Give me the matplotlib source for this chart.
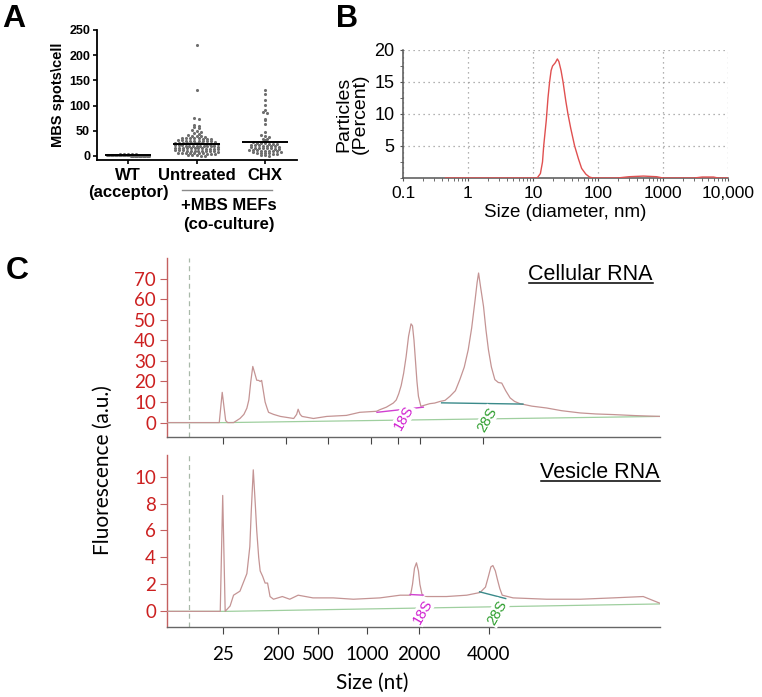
import numpy as np
import matplotlib
matplotlib.use('Agg')
import matplotlib.pyplot as plt
from matplotlib.lines import Line2D
from matplotlib.ticker import MultipleLocator, LogLocator, NullFormatter

plt.rcParams['font.family'] = ['Liberation Sans', 'DejaVu Sans']

# ---- panel A: MBS spots per cell
groups = ['WT', 'Untreated', 'CHX']
wt = [4, 4, 3, 3, 3, 2, 2, 2, 2, 2, 2, 1, 1, 1, 1, 1, 1, 1, 1, 1, 1, 1, 1,
      0, 0, 0, 0, 0, 0, 0, 0, 0, 0, 0, 0, 0, 0, 0]
untreated = [220, 130, 75, 74, 62, 60, 57, 55, 52, 50, 48, 46, 44, 42,
             40, 40, 39, 38,
             36, 36, 35, 35, 35, 34, 34, 33,
             31, 31, 30, 30, 30, 30, 29, 29, 29, 28,
             26, 26, 26, 25, 25, 25, 25, 25, 24, 24, 24, 23,
             21, 21, 21, 20, 20, 20, 20, 20, 19, 19, 19, 19, 18,
             16, 16, 16, 15, 15, 15, 15, 15, 14, 14, 14, 13,
             11, 11, 11, 10, 10, 10, 10, 10, 9, 9, 9, 8,
             6, 6, 5, 5, 5, 5, 5, 4, 4, 3,
             2, 1, 1, 0, 0]
chx = [130, 122, 112, 102, 92, 87, 85, 74, 72, 64, 48, 42, 40, 38, 34, 33, 32,
       27, 26, 25, 25, 24, 24, 23,
       22, 21, 21, 20, 20, 19, 19, 18,
       17, 16, 16, 15, 15, 15, 14, 13,
       12, 11, 11, 10, 10, 10, 9, 9, 8,
       7, 6, 6, 5, 5, 4, 3,
       2, 1, 0]
group_means = [1, 24, 28]

# ---- panel B: particle size distribution
dls_size = [0.45, 11.6, 13, 14, 14.6, 16, 17, 18, 19, 20, 22, 23.7, 25, 27, 29,
            32, 34.5, 38, 43.7, 50, 56, 65, 74, 84, 200, 300, 500, 800, 1000,
            3000, 4000, 6000, 7000, 10000]
dls_pct = [0, 0, 0.7, 2.5, 5, 9, 12.5, 15, 16.8, 17.5, 18, 18.6, 18.2, 16.8, 15,
           12, 10, 7.8, 5, 3, 1.5, 0.6, 0.15, 0, 0, 0.2, 0.3, 0.2, 0,
           0, 0.15, 0.15, 0, 0]
b_ticks = [0.1, 1, 10, 100, 1000, 10000]
b_labels = ['0.1', '1', '10', '100', '1000', '10,000']

# ---- panel C: electropherograms (x = relative migration position)
cell_x = [0, 7.5, 10.6, 11.2, 11.9, 12.3, 13.5, 14.8, 15.6, 16.2, 16.6, 17.0, 17.4,
          17.8, 18.2, 18.6, 18.9, 19.2, 19.5, 19.9, 20.3, 20.6, 21.6, 23.0, 25.7,
          26.3, 26.6, 27.0, 27.4, 29.7, 32.4, 36.4, 39.1, 42.5, 43.2, 44.5, 45.9,
          46.5, 47.0, 47.5, 48.0, 48.5, 49.0, 49.5, 49.8, 50.1, 50.4, 50.7, 51.0,
          51.5, 52.3, 53.3, 54.3, 55.4, 56.4, 57.4, 58.5, 59.4, 60.3, 61.1, 61.8,
          62.5, 62.9, 63.2, 63.6, 64.2, 64.7, 65.2, 65.8, 66.5, 67.2, 67.9, 68.7,
          69.6, 70.5, 71.6, 74.0, 77.0, 80.0, 83.8, 87.0, 90.5, 95.0, 100]
cell_y = [0, 0, 0, 14.7, 1, 0, 0, 2, 4, 7, 11, 20, 27.3,
          24, 20.6, 20.5, 20, 20.5, 16, 10, 7, 5, 4, 3, 2,
          4, 6.5, 4, 3, 2, 3, 3.5, 5, 5.5, 6.3, 7.5, 9.5,
          11, 14, 18, 24, 32, 42, 48, 47, 40, 30, 20, 12.8,
          7.9, 8.5, 9.2, 9.5, 10.3, 10.8, 12.8, 15.5, 20.9, 27, 35.4, 46,
          59.7, 68, 72.7, 66, 56.5, 45, 35.4, 27, 20.9, 19.5, 19.2, 15.5,
          12, 10.3, 9.2, 8, 7.1, 5.8, 4.7, 4.2, 3.9, 3.4, 3]
ves_x = [0, 10.8, 11.3, 11.8, 12.8, 13.5, 14.8, 16.2, 16.8, 17.1, 17.5, 17.9, 18.2,
         18.6, 18.9, 19.4, 19.9, 20.4, 20.9, 21.6, 23.4, 24.9, 26.6, 29.6, 33.7,
         37.8, 43.2, 47.3, 49.4, 49.8, 50.2, 50.6, 51.0, 51.3, 51.7, 52.0, 56.7,
         60.8, 63.5, 64.6, 65.2, 65.7, 66.1, 66.6, 67.0, 67.5, 68.0, 70.2, 77,
         83.8, 90.5, 96.6, 100]
ves_y = [0, 0, 8.6, 0, 0.4, 1.2, 1.5, 2.8, 4.8, 7.5, 10.5, 8, 6,
         4, 3, 2.6, 2.1, 2.1, 1.1, 0.9, 1.1, 0.9, 1.2, 1.0, 1.0,
         0.9, 1.0, 1.2, 1.2, 2.0, 3.2, 3.6, 3.0, 2.0, 1.3, 1.1, 1.1,
         1.2, 1.4, 1.8, 2.6, 3.3, 3.4, 3.0, 2.4, 1.7, 1.2, 1.0, 0.9,
         0.9, 1.0, 1.1, 0.6]
cell_base_x, cell_base_y = [0, 12, 100], [0, 0, 3]
ves_base_x, ves_base_y = [0, 12, 100], [0, 0, 0.55]
cell_ticks = [11.4, 24.1, 32.7, 41.4, 46.9, 51.3, 64.1]
ves_ticks = [11.4, 22.5, 30.6, 40.6, 51.1, 65.3]
ves_labels = ['25', '200', '500', '1000', '2000', '4000']

W, H = 762, 697
fig = plt.figure(figsize=(W / 100, H / 100), dpi=100)


def box(l, t, r, b):
    return [l / W, 1 - b / H, (r - l) / W, (b - t) / H]


def swarm_x(vals, center, binw=5, dx=0.06, maxw=0.62):
    vals = np.asarray(vals, float)
    xs = np.zeros(len(vals))
    keys = np.round(vals / binw)
    for k in np.unique(keys):
        idx = np.where(keys == k)[0]
        n = len(idx)
        step = dx if n < 2 else min(dx, maxw / (n - 1))
        xs[idx] = center + (np.arange(n) - (n - 1) / 2) * step
    return xs


# ---------------- A
axA = fig.add_axes(box(97, 30, 297, 160))
for i, vals in enumerate([wt, untreated, chx]):
    axA.scatter(swarm_x(vals, i), vals, s=5, color='#6e6e6e', lw=0, zorder=2)
axA.hlines(group_means, np.arange(3) - 0.34, np.arange(3) + 0.34, color='k', lw=1.4, zorder=3)
axA.set_xlim(-0.453, 2.467)
axA.set_ylim(-8, 250)
axA.set_yticks(range(0, 251, 50))
axA.set_xticks(range(3))
axA.set_xticklabels(groups, fontweight='bold', fontsize=12)
for lab in axA.get_yticklabels():
    lab.set_fontweight('bold')
    lab.set_fontsize(9)
axA.tick_params(length=3, width=1.2, pad=2)
axA.tick_params(axis='x', pad=3)
for s in ['top', 'right']:
    axA.spines[s].set_visible(False)
for s in ['left', 'bottom']:
    axA.spines[s].set_linewidth(1.3)
axA.set_ylabel('MBS spots\\cell', fontweight='bold', fontsize=10.5, labelpad=3)
trA = axA.get_xaxis_transform()
axA.text(0, -0.19, '(acceptor)', transform=trA, ha='center', va='top',
         fontweight='bold', fontsize=12)
axA.plot([0.79, 2.1], [-0.23, -0.23], transform=trA, clip_on=False, color='#8a8a8a', lw=1)
axA.text(1.47, -0.29, '+MBS MEFs\n(co-culture)', transform=trA, ha='center', va='top',
         fontweight='bold', fontsize=12, linespacing=1.35)

# ---------------- B
axB = fig.add_axes(box(403, 50, 728, 178))
axB.semilogx(dls_size, dls_pct, color='#e05050', lw=1.0, zorder=3)
axB.set_xlim(0.1, 10000)
axB.set_ylim(0, 20)
axB.set_xticks(b_ticks)
axB.set_xticklabels(b_labels, fontsize=12.5)
axB.xaxis.set_minor_locator(LogLocator(base=10, subs=range(2, 10)))
axB.xaxis.set_minor_formatter(NullFormatter())
axB.set_yticks([5, 10, 15, 20])
axB.yaxis.set_minor_locator(MultipleLocator(2.5))
axB.tick_params(axis='y', labelsize=13)
axB.tick_params(which='both', length=2.5, color='#555555')
axB.grid(True, which='major', ls=(0, (1, 3)), color='#999999', lw=0.9)
for s in ['top', 'right']:
    axB.spines[s].set_visible(False)
for s in ['left', 'bottom']:
    axB.spines[s].set_color('#555555')
    axB.spines[s].set_linewidth(1.1)
axB.set_xlabel('Size (diameter, nm)', fontsize=13.5, labelpad=2)
axB.set_ylabel('Particles\n(Percent)', fontsize=14, labelpad=4, linespacing=1.0)

# ---------------- C
axC1 = fig.add_axes(box(167, 258, 660, 437))
axC2 = fig.add_axes(box(167, 455, 660, 627))
cfont = ['Lato', 'DejaVu Sans']
for ax, xs, ys, bx, by, ticks, ylim, ystep in [
        (axC1, cell_x, cell_y, cell_base_x, cell_base_y, cell_ticks, (-7, 80), 10),
        (axC2, ves_x, ves_y, ves_base_x, ves_base_y, ves_ticks, (-1.16, 11.6), 2)]:
    ax.plot(bx, by, color='#9fcf9f', lw=0.9, zorder=2)
    ax.plot(xs, ys, color='#c49494', lw=0.9, zorder=3)
    ax.axvline(4.5, color='#a9b9a9', ls=(0, (4, 3)), lw=0.9, zorder=1)
    ax.set_xlim(0, 100)
    ax.set_ylim(*ylim)
    ax.set_yticks(np.arange(0, ylim[1], ystep))
    ax.set_xticks(ticks)
    for s in ['top', 'right']:
        ax.spines[s].set_visible(False)
    ax.spines['left'].set_color('#c46060')
    ax.spines['bottom'].set_color('#666666')
    ax.spines['left'].set_linewidth(1.0)
    ax.spines['bottom'].set_linewidth(1.0)
    ax.tick_params(axis='y', colors='#c46060', labelcolor='#cc2020', labelsize=13.5, length=5, pad=3)
    ax.tick_params(axis='x', color='#444444', length=5)
    for lab in ax.get_yticklabels():
        lab.set_family(cfont)
axC1.set_xticklabels([])
axC2.set_xticklabels(ves_labels, fontsize=13.5, family=cfont)
axC2.tick_params(axis='x', pad=9)

# marker baselines and labels
axC1.plot([42.6, 52.0], [5.0, 7.5], color='#d040d0', lw=1.0, zorder=4)
axC1.plot([55.7, 72.2], [9.6, 9.0], color='#3a8a8a', lw=1.0, zorder=4)
axC2.plot([49.3, 52.0], [1.25, 1.2], color='#d040d0', lw=1.0, zorder=4)
axC2.plot([63.4, 68.7], [1.45, 0.95], color='#3a8a8a', lw=1.0, zorder=4)
wbox = dict(fc='white', ec='none', pad=0.6)
axC1.text(48.0, 2.4, '18S', rotation=60, color='#d020d0', fontsize=10.5, ha='center', va='center', bbox=wbox, zorder=6)
axC1.text(64.9, 1.5, '28S', rotation=60, color='#2e9e2e', fontsize=10.5, ha='center', va='center', bbox=wbox, zorder=6)
axC2.text(51.9, 0.0, '18S', rotation=60, color='#d020d0', fontsize=10.5, ha='center', va='center', bbox=wbox, zorder=6)
axC2.text(66.9, -0.1, '28S', rotation=60, color='#2e9e2e', fontsize=10.5, ha='center', va='center', bbox=wbox, zorder=6)

fig.text(103 / W, 1 - 470 / H, 'Fluorescence (a.u.)', rotation=90, ha='center', va='center',
         fontsize=15, family=cfont)
fig.text(372 / W, 1 - 683 / H, 'Size (nt)', ha='center', va='center', fontsize=15, family=cfont)

titles = [('Cellular RNA', 653, 280), ('Vesicle RNA', 660, 478)]
title_objs = []
for txt, xr, yb in titles:
    t = fig.text(xr / W, 1 - yb / H, txt, ha='right', va='baseline', fontsize=15.5)
    title_objs.append((t, yb))

# panel letters
fig.text(2 / W, 1 - 4 / H, 'A', fontsize=23, fontweight='bold', va='top')
fig.text(336 / W, 1 - 4 / H, 'B', fontsize=22, fontweight='bold', va='top')
fig.text(6 / W, 1 - 256 / H, 'C', fontsize=23, fontweight='bold', va='top')

# underline titles
fig.canvas.draw()
r = fig.canvas.get_renderer()
for t, yb in title_objs:
    bb = t.get_window_extent(r)
    yl = 1 - (yb + 3) / H
    fig.add_artist(Line2D([bb.x0 / W, bb.x1 / W], [yl, yl], transform=fig.transFigure,
                          color='k', lw=1.1))

fig.savefig('out.png', dpi=100)
